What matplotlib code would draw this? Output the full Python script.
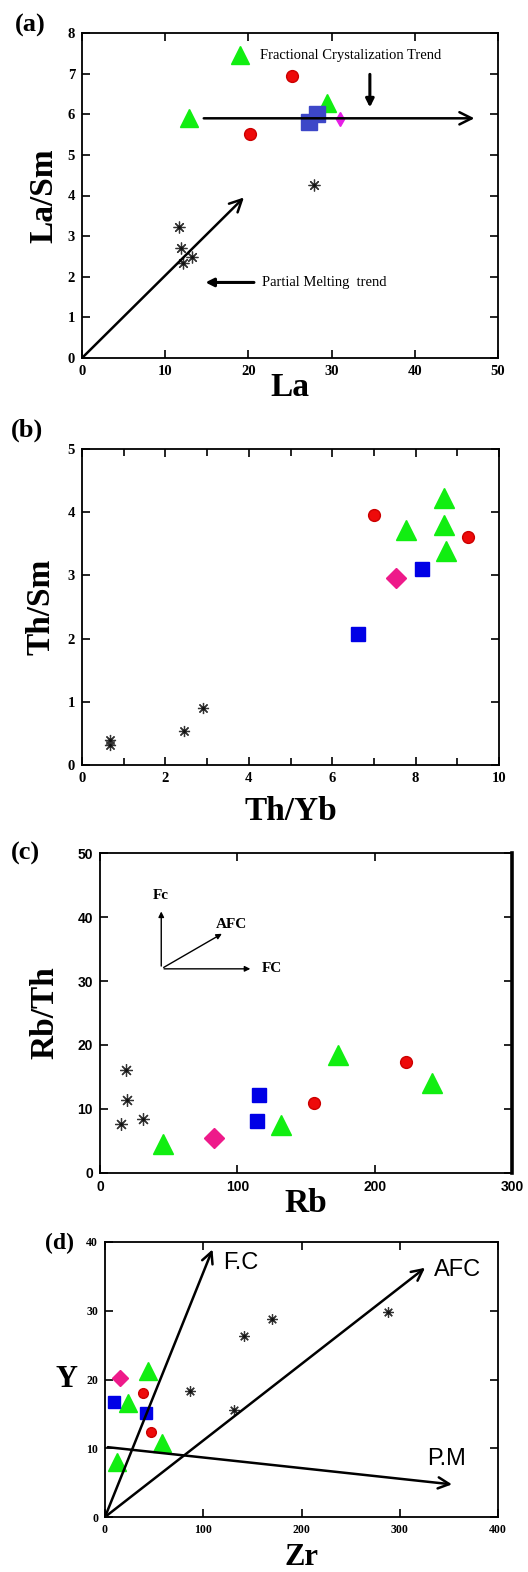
import matplotlib
matplotlib.use("Agg")
import matplotlib.pyplot as plt

W, H = 528, 1572

# ---- panel (a): La vs La/Sm
a_tri_x = [19.0, 12.9, 29.5]
a_tri_y = [7.47, 5.90, 6.28]
a_cir_x = [25.2, 20.2]
a_cir_y = [6.95, 5.51]
a_sq_x = [27.3, 28.3]
a_sq_y = [5.80, 6.00]
a_dia_x = [31.0]
a_dia_y = [5.89]
a_ast_x = [11.6, 11.9, 12.1, 13.2, 27.9]
a_ast_y = [3.22, 2.71, 2.34, 2.49, 4.27]

# ---- panel (b): Th/Yb vs Th/Sm
b_tri_x = [7.76, 8.67, 8.67, 8.73]
b_tri_y = [3.72, 4.22, 3.79, 3.38]
b_cir_x = [7.01, 9.25]
b_cir_y = [3.95, 3.60]
b_sq_x = [8.15, 6.61]
b_sq_y = [3.10, 2.07]
b_dia_x = [7.52]
b_dia_y = [2.96]
b_ast_x = [0.66, 0.66, 2.44, 2.90]
b_ast_y = [0.40, 0.31, 0.54, 0.90]

# ---- panel (c): Rb vs Rb/Th
c_tri_x = [46, 132, 173, 242]
c_tri_y = [4.6, 7.5, 18.4, 14.0]
c_cir_x = [156, 223]
c_cir_y = [10.9, 17.4]
c_sq_x = [116, 114]
c_sq_y = [12.2, 8.1]
c_dia_x = [83]
c_dia_y = [5.5]
c_ast_x = [19, 20, 15, 31]
c_ast_y = [16.1, 11.4, 7.6, 8.4]

# ---- panel (d): Zr vs Y
d_tri_x = [23, 44, 12, 58]
d_tri_y = [16.6, 21.2, 8.0, 10.7]
d_cir_x = [39, 47]
d_cir_y = [18.0, 12.3]
d_sq_x = [9, 42]
d_sq_y = [16.7, 15.2]
d_dia_x = [15]
d_dia_y = [20.2]
d_ast_x = [87, 131, 141, 170, 288]
d_ast_y = [18.4, 15.6, 26.4, 28.8, 29.8]

GREEN = "#11ee11"
RED = "#ee0a0a"
BLUE = "#0000e6"
PINK = "#ee1a8a"
SERIF = "Liberation Serif"

fig = plt.figure(figsize=(W / 100, H / 100), dpi=100)


def box(l, t, r, b):
    return [l / W, 1 - b / H, (r - l) / W, (b - t) / H]


def style(ax, tick_font, tsize):
    ax.tick_params(direction="in", top=True, right=True, length=6, width=1.2,
                   labelsize=tsize, pad=5)
    ax.tick_params(which="minor", direction="in", top=True, right=True, length=5, width=1.2)
    for lab in ax.get_xticklabels() + ax.get_yticklabels():
        lab.set_family(tick_font)
        lab.set_fontweight("bold")
    for s in ax.spines.values():
        s.set_linewidth(1.3)


def draw(ax, tx, ty, cx, cy, sx, sy, dx, dy, ax_, ay_, ms, blue=BLUE, pink=PINK, dm="D"):
    ax.plot(tx, ty, "^", color=GREEN, ms=ms[0], mec=GREEN, ls="none")
    ax.plot(cx, cy, "o", color=RED, ms=ms[1], mec="#cc0000", ls="none")
    ax.plot(sx, sy, "s", color=blue, ms=ms[2], mec=blue, ls="none")
    ax.plot(dx, dy, dm, color=pink, ms=ms[3], mec=pink, ls="none")
    ax.plot(ax_, ay_, ls="none", marker=(8, 2, 0), color="#333333", ms=ms[4], mew=0.9)
    ax.plot(ax_, ay_, ls="none", marker="o", color="#111111", ms=2.2, mew=0)


# ================= (a)
ax = fig.add_axes(box(82, 33, 498, 358))
ax.set_xlim(0, 50)
ax.set_ylim(0, 8)
ax.set_xticks([0, 10, 20, 30, 40, 50])
ax.set_yticks(range(0, 9))
draw(ax, a_tri_x, a_tri_y, a_cir_x, a_cir_y, a_sq_x, a_sq_y, a_dia_x, a_dia_y,
     a_ast_x, a_ast_y, [13.5, 8.5, 12, 7.5, 8.5], blue="#3d47c8", pink="#e61ee6", dm="d")
arr = dict(arrowstyle="->", lw=1.8, color="black", mutation_scale=22)
ax.annotate("", xy=(19.7, 4.0), xytext=(0, 0), arrowprops=arr)
ax.annotate("", xy=(47.5, 5.9), xytext=(14.3, 5.9), arrowprops=arr)
sarr = dict(arrowstyle="-|>", lw=2.2, color="black", mutation_scale=12)
ax.annotate("", xy=(34.6, 6.1), xytext=(34.6, 7.05), arrowprops=sarr)
ax.annotate("", xy=(14.5, 1.86), xytext=(21.0, 1.86), arrowprops=sarr)
ax.text(21.4, 7.44, "Fractional Crystalization Trend", family=SERIF, fontsize=10.5, va="center")
ax.text(21.6, 1.86, "Partial Melting  trend", family=SERIF, fontsize=10.5, va="center")
style(ax, SERIF, 10.5)
ax.set_xlabel("La", family=SERIF, fontsize=24, fontweight="bold", labelpad=-4)
ax.set_ylabel("La/Sm", family=SERIF, fontsize=24, fontweight="bold", labelpad=6)
fig.text(30 / W, 1 - 25 / H, "(a)", family=SERIF, fontsize=19, fontweight="bold",
         ha="center", va="center")

# ================= (b)
ax = fig.add_axes(box(82, 449, 499, 765))
ax.set_xlim(0, 10)
ax.set_ylim(0, 5)
ax.set_xticks([0, 2, 4, 6, 8, 10])
ax.set_xticks([1, 3, 5, 7, 9], minor=True)
ax.set_yticks(range(0, 6))
draw(ax, b_tri_x, b_tri_y, b_cir_x, b_cir_y, b_sq_x, b_sq_y, b_dia_x, b_dia_y,
     b_ast_x, b_ast_y, [14, 8.5, 10, 10, 8])
style(ax, SERIF, 10.5)
ax.set_xlabel("Th/Yb", family=SERIF, fontsize=24, fontweight="bold", labelpad=8)
ax.set_ylabel("Th/Sm", family=SERIF, fontsize=24, fontweight="bold", labelpad=8)
fig.text(27 / W, 1 - 430 / H, "(b)", family=SERIF, fontsize=19, fontweight="bold",
         ha="center", va="center")

# ================= (c)
ax = fig.add_axes(box(100, 853, 512, 1173))
ax.set_xlim(0, 300)
ax.set_ylim(0, 50)
ax.set_xticks([0, 100, 200, 300])
ax.set_yticks(range(0, 51, 10))
draw(ax, c_tri_x, c_tri_y, c_cir_x, c_cir_y, c_sq_x, c_sq_y, c_dia_x, c_dia_y,
     c_ast_x, c_ast_y, [15, 8.5, 10.5, 10, 9])
carr = dict(arrowstyle="-|>", lw=1.0, color="black", mutation_scale=8)
ax.annotate("", xy=(44.6, 41.3), xytext=(44.6, 31.9), arrowprops=carr)
ax.annotate("", xy=(90.5, 37.6), xytext=(44.6, 31.9), arrowprops=carr)
ax.annotate("", xy=(111.5, 31.9), xytext=(44.6, 31.9), arrowprops=carr)
ax.text(44.6, 43.3, "Fc", family=SERIF, fontsize=11, fontweight="bold", ha="center", va="center")
ax.text(84.5, 38.9, "AFC", family=SERIF, fontsize=11, fontweight="bold", ha="left", va="center")
ax.text(117.5, 31.9, "FC", family=SERIF, fontsize=11, fontweight="bold", ha="left", va="center")
style(ax, "Liberation Sans", 10)
ax.spines["right"].set_linewidth(2.6)
ax.set_xlabel("Rb", family=SERIF, fontsize=24, fontweight="bold", labelpad=-4)
ax.set_ylabel("Rb/Th", family=SERIF, fontsize=24, fontweight="bold", labelpad=12)
fig.text(25 / W, 1 - 853 / H, "(c)", family=SERIF, fontsize=19, fontweight="bold",
         ha="center", va="center")

# ================= (d)
ax = fig.add_axes(box(105, 1242, 498, 1517))
ax.set_xlim(0, 400)
ax.set_ylim(0, 40)
ax.set_xticks([0, 100, 200, 300, 400])
ax.set_yticks([0, 10, 20, 30, 40])
draw(ax, d_tri_x, d_tri_y, d_cir_x, d_cir_y, d_sq_x, d_sq_y, d_dia_x, d_dia_y,
     d_ast_x, d_ast_y, [13.5, 7, 8.5, 8, 7.5])
darr = dict(arrowstyle="->", lw=1.8, color="black", mutation_scale=20)
ax.annotate("", xy=(110.5, 39.3), xytext=(0, 0), arrowprops=darr)
ax.annotate("", xy=(328, 36.5), xytext=(0, 0), arrowprops=darr)
ax.annotate("", xy=(356, 4.7), xytext=(0, 10.2), arrowprops=darr)
ax.text(120, 36.9, "F.C", family="Liberation Sans", fontsize=17, va="center")
ax.text(335, 36.0, "AFC", family="Liberation Sans", fontsize=17, va="center")
ax.text(328, 8.5, "P.M", family="Liberation Sans", fontsize=17, va="center")
style(ax, SERIF, 8.5)
ax.set_xlabel("Zr", family=SERIF, fontsize=22, fontweight="bold", labelpad=5)
ax.set_ylabel("Y", family=SERIF, fontsize=22, fontweight="bold", rotation=0,
              labelpad=14, va="center")
fig.text(60 / W, 1 - 1243 / H, "(d)", family=SERIF, fontsize=17, fontweight="bold",
         ha="center", va="center")

fig.savefig("out.png", dpi=100)
